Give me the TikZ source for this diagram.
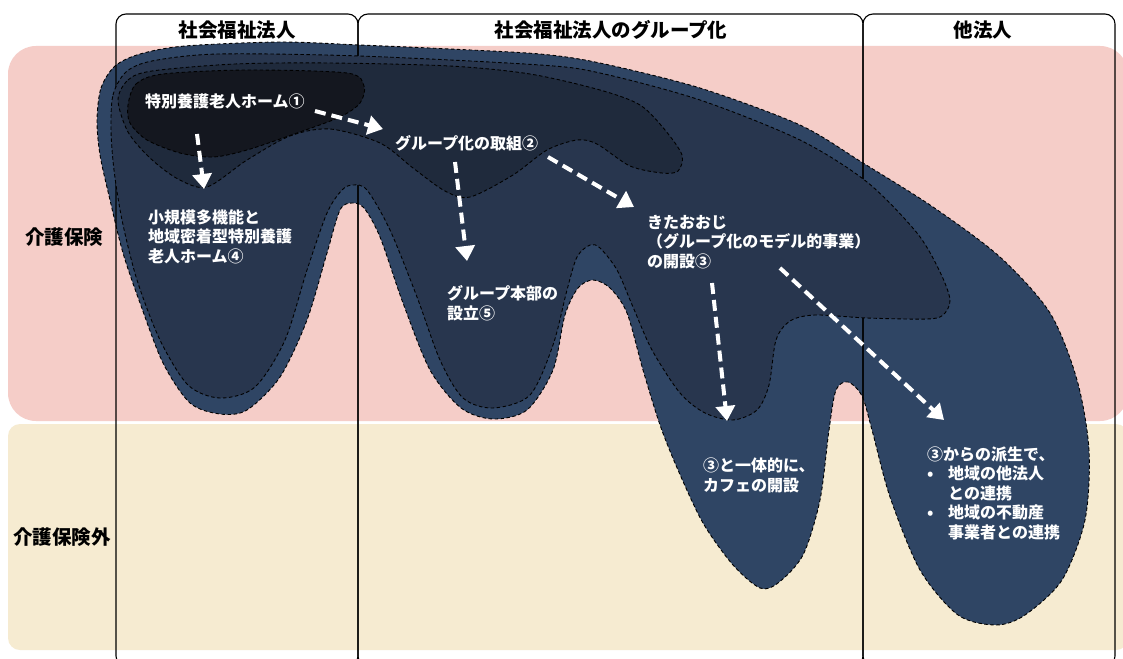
\documentclass[tikz,border=0pt]{standalone}
\usepackage{fontspec}
\setmainfont{Noto Sans CJK JP}
\usetikzlibrary{arrows.meta}
\definecolor{pinkbg}{HTML}{F5CDC8}
\definecolor{yellowbg}{HTML}{F6EBD1}
\definecolor{layA}{HTML}{2F4564}
\definecolor{layB}{HTML}{28364E}
\definecolor{layC}{HTML}{1F2A3C}
\definecolor{layD}{HTML}{14171F}
\begin{document}
\begin{tikzpicture}[x=1pt,y=-1pt,
  blob/.style={draw=black, line width=0.9pt, dash pattern=on 3.5pt off 2.5pt},
  colbox/.style={draw=black, line width=1.1pt, rounded corners=10pt},
  hdr/.style={font=\bfseries\fontsize{19.5}{22}\selectfont, text=black, inner sep=0pt},
  lbl/.style={font=\bfseries\fontsize{16}{19.5}\selectfont, text=white, align=left, anchor=base west, inner sep=0pt},
  flow/.style={draw=white, line width=4pt, dash pattern=on 11pt off 6pt, -{Triangle[width=19pt,length=15pt]}}
]
\clip (0,0) rectangle (1123,658);
\fill[white] (0,0) rectangle (1123,658);
% bands
\fill[pinkbg, rounded corners=28pt] (8,46) rectangle (1128,421);
\fill[yellowbg, rounded corners=12pt] (8,424) rectangle (1128,650);
% layer A
\path[blob, fill=layA] plot[smooth cycle] coordinates {
 (97,120) (101,88) (115,66) (140,54) (185,46) (280,42) (360,45) (450,49) (540,54)
 (600,63) (700,88) (800,125) (863,163) (933,207) (1000,257) (1050,313) (1077,380)
 (1089,450) (1085,520) (1062,580) (1025,615) (996,625) (958,615) (920,570) (890,497)
 (872,430) (862,396) (848,382) (836,390) (829,430) (820,500) (803,555) (778,583)
 (760,588) (733,565) (703,523) (678,470) (660,425) (643,370) (627,313) (610,288)
 (593,280) (578,288) (565,315) (553,370) (527,410) (493,419) (461,408) (430,370)
 (403,303) (380,237) (364,208) (352,203) (340,210) (327,253) (307,320) (280,377)
 (247,410) (220,414) (190,403) (163,363) (140,303) (123,253) (110,200) (100,155)};
% column boxes
\draw[colbox] (116,14) rectangle (358,666);
\draw[colbox] (358,14) rectangle (863,666);
\draw[colbox] (863,14) rectangle (1115,666);
% layer B
\path[blob, fill=layB] plot[smooth cycle] coordinates {
 (111,130) (113,95) (126,72) (152,61) (218,54) (360,56) (540,65) (600,73) (700,100)
 (800,140) (867,182) (917,233) (940,272) (950,300) (943,315) (927,319) (867,318)
 (815,315) (790,321) (776,340) (769,385) (757,410) (733,420) (705,413) (680,393)
 (652,350) (633,307) (617,270) (600,248) (590,245) (577,257) (567,290) (553,345)
 (530,395) (493,408) (463,398) (440,360) (417,297) (390,230) (367,190) (353,185)
 (342,190) (327,213) (307,270) (285,340) (255,387) (220,398) (188,385) (160,340)
 (137,280) (122,220) (114,170)};
% layer C
\path[blob, fill=layC] plot[smooth cycle] coordinates {
 (118,100) (128,80) (152,71) (235,64) (330,63) (450,66) (530,74) (600,90) (640,105)
 (665,130) (682,155) (678,171) (662,173) (630,166) (597,144) (577,140) (547,150)
 (513,175) (470,197) (445,191) (413,168) (380,143) (330,129) (290,136) (247,160)
 (207,187) (178,179) (150,158) (128,132)};
% layer D
\path[blob, fill=layD] plot[smooth cycle] coordinates {
 (128,105) (136,84) (163,74) (247,70) (347,73) (364,86) (360,103) (340,117)
 (297,133) (247,150) (213,157) (180,153) (147,140) (130,123)};
% headers
\node[hdr] (h1) at (237,30) {社会福祉法人};
\node[hdr] (h2) at (611,30) {社会福祉法人のグループ化};
\node[hdr] (h3) at (983,30) {他法人};
\node[hdr, anchor=west] (r1) at (25,237) {介護保険};
\node[hdr, anchor=west] (r2) at (13,537) {介護保険外};
% labels (anchor = baseline of the last line)
\node[lbl] (n1) at (145,108) {特別養護老人ホーム①};
\node[lbl] (n2) at (395,149) {グループ化の取組②};
\node[lbl] (n4) at (148,262) {小規模多機能と\\地域密着型特別養護\\老人ホーム④};
\node[lbl] (n5) at (447,319) {グループ本部の\\設立⑤};
\node[lbl] (n3) at (647,267) {きたおおじ\\（グループ化のモデル的事業）\\の開設③};
\node[lbl] (n6) at (703,491) {③と一体的に、\\カフェの開設};
\node[lbl] (n7) at (927,538) {③からの派生で、\\\makebox[21pt][l]{•}地域の他法人\\\hspace*{21pt}との連携\\\makebox[21pt][l]{•}地域の不動産\\\hspace*{21pt}事業者との連携};
% arrows
\coordinate (a1s) at (315,111); \coordinate (a1e) at (383,129);
\coordinate (a2s) at (197,134); \coordinate (a2e) at (204,189);
\coordinate (a3s) at (455,162); \coordinate (a3e) at (467,261);
\coordinate (a4s) at (548,157); \coordinate (a4e) at (634,207);
\coordinate (a5s) at (712,283); \coordinate (a5e) at (727,421);
\coordinate (a6s) at (780,268); \coordinate (a6e) at (944,420);
\draw[flow] (a1s) -- (a1e);
\draw[flow] (a2s) -- (a2e);
\draw[flow] (a3s) -- (a3e);
\draw[flow] (a4s) -- (a4e);
\draw[flow] (a5s) -- (a5e);
\draw[flow] (a6s) -- (a6e);
\end{tikzpicture}
\end{document}
